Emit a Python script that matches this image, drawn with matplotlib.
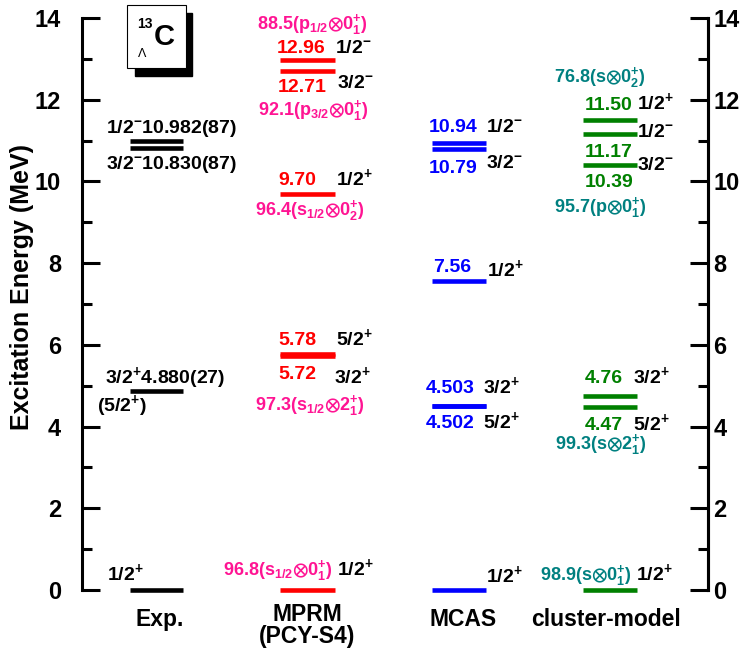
import matplotlib
matplotlib.use("Agg")
import matplotlib.pyplot as plt
from matplotlib.patches import Rectangle

plt.rcParams["font.family"] = ["Liberation Sans", "DejaVu Sans"]
plt.rcParams["font.weight"] = "bold"
plt.rcParams["mathtext.fontset"] = "custom"
plt.rcParams["mathtext.rm"] = "Liberation Sans:bold"
plt.rcParams["mathtext.it"] = "Liberation Sans:bold"
plt.rcParams["mathtext.bf"] = "Liberation Sans:bold"
plt.rcParams["mathtext.sf"] = "Liberation Sans:bold"
plt.rcParams["mathtext.fallback"] = "stixsans"
plt.rcParams["mathtext.default"] = "rm"

# ---- level energies (MeV) ----
exp_levels = ["0.000", "4.880", "10.830", "10.982"]
exp_err = ["", "27", "87", "87"]
mprm_levels = ["0.00", "5.72", "5.78", "9.70", "12.71", "12.96"]
mcas_levels = ["0.000", "4.502", "4.503", "7.56", "10.79", "10.94"]
clus_levels = ["0.00", "4.47", "4.76", "10.39", "11.17", "11.50"]

exp_E = [float(s) for s in exp_levels]
mprm_E = [float(s) for s in mprm_levels]
mcas_E = [float(s) for s in mcas_levels]
clus_E = [float(s) for s in clus_levels]

# spin-parity of each level
exp_jp = ["1/2^{+}", "3/2^{+}", "3/2^{-}", "1/2^{-}"]
mprm_jp = ["1/2^{+}", "3/2^{+}", "5/2^{+}", "1/2^{+}", "3/2^{-}", "1/2^{-}"]
mcas_jp = ["1/2^{+}", "5/2^{+}", "3/2^{+}", "1/2^{+}", "3/2^{-}", "1/2^{-}"]
clus_jp = ["1/2^{+}", "5/2^{+}", "3/2^{+}", "3/2^{-}", "1/2^{-}", "1/2^{+}"]

# dominant configuration probabilities (%)
mprm_cfg = {0: ("96.8", r"s_{1/2}{\otimes}0^{+}_{1}"),
            1: ("97.3", r"s_{1/2}{\otimes}2^{+}_{1}"),
            3: ("96.4", r"s_{1/2}{\otimes}0^{+}_{2}"),
            4: ("92.1", r"p_{3/2}{\otimes}0^{+}_{1}"),
            5: ("88.5", r"p_{1/2}{\otimes}0^{+}_{1}")}
clus_cfg = {0: ("98.9", r"s{\otimes}0^{+}_{1}"),
            1: ("99.3", r"s{\otimes}2^{+}_{1}"),
            3: ("95.7", r"p{\otimes}0^{+}_{1}"),
            5: ("76.8", r"s{\otimes}0^{+}_{2}")}

columns = ["Exp.", "MPRM\n(PCY-S4)", "MCAS", "cluster-model"]

# ---- colours / layout ----
C_EXP, C_MPRM, C_MCAS, C_CLUS = "black", "#ff0000", "#0000ff", "#008000"
C_MPRM_CFG, C_CLUS_CFG = "#ff1493", "#008080"
col_span = {"exp": (130, 183), "mprm": (280, 335), "mcas": (432, 486), "clus": (583, 637)}
LW = 3.3
FS_NUM = 14
FS_CFG = 13

W, H = 742, 650
fig = plt.figure(figsize=(W / 100, H / 100), dpi=100)
ax = fig.add_axes([82 / W, 60 / H, 626 / W, 572 / H])
ax.set_xlim(82, 708)
ax.set_ylim(0, 14)


def levels(key, energies, color):
    x0, x1 = col_span[key]
    ax.hlines(energies, x0, x1, colors=color, lw=LW, capstyle="butt", clip_on=False)


def put(text, x, E, dy, color="black", size=FS_NUM, weight="bold"):
    ax.annotate(text, xy=(x, E), xytext=(0, dy), textcoords="offset pixels",
                ha="left", va="baseline", color=color, fontsize=size,
                fontweight=weight, annotation_clip=False)


def jp(s):
    return "$" + s + "$"


def cfg(pct, conf):
    return "$" + pct + "(" + conf + ")$"


levels("exp", exp_E, C_EXP)
levels("mprm", mprm_E, C_MPRM)
levels("mcas", mcas_E, C_MCAS)
levels("clus", clus_E, C_CLUS)

# ---- Exp. labels ----
put(jp(exp_jp[0]), 107, exp_E[0], 10)
put(jp(exp_jp[1]) + exp_levels[1] + "(" + exp_err[1] + ")", 105, exp_E[1], 8)
put("(" + jp("5/2^{+}") + ")", 97, exp_E[1], -20)
put(jp(exp_jp[3]) + exp_levels[3] + "(" + exp_err[3] + ")", 106, exp_E[3], 8)
put(jp(exp_jp[2]) + exp_levels[2] + "(" + exp_err[2] + ")", 106, exp_E[2], -21)

# ---- MPRM labels ----
put(cfg(*mprm_cfg[0]), 223, mprm_E[0], 15, C_MPRM_CFG, FS_CFG)
put(jp(mprm_jp[0]), 337, mprm_E[0], 15)
put(mprm_levels[2], 278, mprm_E[2], 9, C_MPRM)
put(jp(mprm_jp[2]), 336, mprm_E[2], 9)
put(mprm_levels[1], 278, mprm_E[1], -23, C_MPRM)
put(jp(mprm_jp[1]), 334, mprm_E[1], -27)
put(cfg(*mprm_cfg[1]), 255, mprm_E[1], -54, C_MPRM_CFG, FS_CFG)
put(mprm_levels[3], 278, mprm_E[3], 9, C_MPRM)
put(jp(mprm_jp[3]), 336, mprm_E[3], 9)
put(cfg(*mprm_cfg[3]), 255, mprm_E[3], -21, C_MPRM_CFG, FS_CFG)
put(mprm_levels[5], 277, mprm_E[5], 7.5, C_MPRM)
put(jp(mprm_jp[5]), 335, mprm_E[5], 7.5)
put(cfg(*mprm_cfg[5]), 257, mprm_E[5], 31.5, C_MPRM_CFG, FS_CFG)
put(mprm_levels[4], 278, mprm_E[4], -21, C_MPRM)
put(jp(mprm_jp[4]), 337, mprm_E[4], -17)
put(cfg(*mprm_cfg[4]), 258, mprm_E[4], -44, C_MPRM_CFG, FS_CFG)

# ---- MCAS labels ----
put(jp(mcas_jp[0]), 486, mcas_E[0], 8)
put(mcas_levels[2], 426, mcas_E[2], 13, C_MCAS)
put(jp(mcas_jp[2]), 483, mcas_E[2], 13)
put(mcas_levels[1], 426, mcas_E[1], -22, C_MCAS)
put(jp(mcas_jp[1]), 483, mcas_E[1], -22)
put(mcas_levels[3], 433, mcas_E[3], 9, C_MCAS)
put(jp(mcas_jp[3]), 487, mcas_E[3], 5)
put(mcas_levels[5], 429, mcas_E[5], 11, C_MCAS)
put(jp(mcas_jp[5]), 486, mcas_E[5], 11)
put(mcas_levels[4], 429, mcas_E[4], -24, C_MCAS)
put(jp(mcas_jp[4]), 486, mcas_E[4], -19)

# ---- cluster-model labels ----
put(cfg(*clus_cfg[0]), 540, clus_E[0], 10, C_CLUS_CFG, FS_CFG)
put(jp(clus_jp[0]), 636, clus_E[0], 10)
put(clus_levels[2], 585, clus_E[2], 12.5, C_CLUS)
put(jp(clus_jp[2]), 633, clus_E[2], 12.5)
put(clus_levels[1], 585, clus_E[1], -22.5, C_CLUS)
put(jp(clus_jp[1]), 633, clus_E[1], -22.5)
put(cfg(*clus_cfg[1]), 555, clus_E[1], -42, C_CLUS_CFG, FS_CFG)
put(clus_levels[5], 585, clus_E[5], 10, C_CLUS)
put(jp(clus_jp[5]), 637, clus_E[5], 11)
put(cfg(*clus_cfg[5]), 554, clus_E[5], 38, C_CLUS_CFG, FS_CFG)
put(jp(clus_jp[4]), 637, clus_E[4], -3.5)
put(clus_levels[4], 585, clus_E[4], -23.5, C_CLUS)
put(jp(clus_jp[3]), 637, clus_E[3], -4.5)
put(clus_levels[3], 585, clus_E[3], -21.5, C_CLUS)
put(cfg(*clus_cfg[3]), 554, clus_E[3], -46.5, C_CLUS_CFG, FS_CFG)

# ---- axes styling ----
for side in ("top", "bottom"):
    ax.spines[side].set_visible(False)
for side in ("left", "right"):
    ax.spines[side].set_linewidth(2.2)
ax.set_xticks([])
ax.set_yticks(range(0, 15, 2))
ax.set_yticks(range(1, 14, 2), minor=True)
ax.tick_params(axis="y", which="both", direction="in", width=2.2, labelsize=17, pad=15)
ax.tick_params(axis="y", which="major", length=13)
ax.tick_params(axis="y", which="minor", length=7)
ax.set_ylabel("Excitation Energy (MeV)", fontsize=18, fontweight="bold")
ax.yaxis.set_label_coords((34 - 82) / 626, (590 - 287) / 572)

axr = ax.twinx()
axr.set_ylim(ax.get_ylim())
for side in ("top", "bottom", "left"):
    axr.spines[side].set_visible(False)
axr.spines["right"].set_linewidth(2.2)
axr.set_yticks(range(0, 15, 2))
axr.set_yticks(range(1, 14, 2), minor=True)
axr.tick_params(axis="y", which="both", direction="in", width=2.2, labelsize=17, pad=4)
axr.tick_params(axis="y", which="major", length=13)
axr.tick_params(axis="y", which="minor", length=7)

# ---- column titles ----
title_x = [160, 307, 463, 606]
title_y = [626, 621, 626, 626]
for name, x, y in zip(columns, title_x, title_y):
    for k, line in enumerate(name.split("\n")):
        fig.text(x / W, 1 - (y + 22 * k) / H, line, ha="center", va="baseline",
                 fontsize=16.5, fontweight="bold")

# ---- nucleus tag ----
fig.patches.append(Rectangle((135 / W, 1 - 76 / H), 57 / W, 63 / H,
                             transform=fig.transFigure, facecolor="black",
                             edgecolor="black", zorder=5))
fig.patches.append(Rectangle((127 / W, 1 - 68 / H), 59 / W, 63 / H,
                             transform=fig.transFigure, facecolor="white",
                             edgecolor="black", lw=0.8, zorder=6))
fig.text(137 / W, 1 - 28 / H, "13", fontsize=10, fontweight="bold", ha="left",
         va="baseline", zorder=7)
fig.text(154 / W, 1 - 45 / H, "C", fontsize=21, fontweight="bold", ha="left",
         va="baseline", zorder=7)
fig.text(138 / W, 1 - 57 / H, "\u039b", fontsize=9, fontweight="normal", ha="left",
         va="baseline", zorder=7)

fig.savefig("out.png", dpi=100)
